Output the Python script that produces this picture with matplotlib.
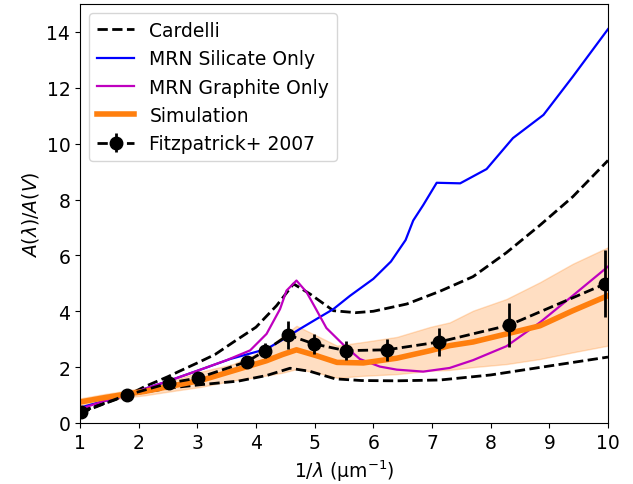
import numpy as np
import matplotlib
matplotlib.use('Agg')
import matplotlib.pyplot as plt

plt.rcParams['font.size'] = 13.5

# Cardelli curves (two R_V values)
card_hi_x = [1.0, 1.4, 1.82, 2.1, 2.5, 2.67, 3.0, 3.3, 3.61, 4.0, 4.35, 4.64, 4.92, 5.32, 5.7, 6.0, 6.57, 7.14, 7.7, 8.27, 8.84, 9.4, 10.0]
card_hi_y = [0.35, 0.68, 1.0, 1.3, 1.66, 1.83, 2.15, 2.45, 2.89, 3.43, 4.2, 4.98, 4.62, 4.02, 3.95, 4.0, 4.26, 4.72, 5.24, 6.1, 7.08, 8.1, 9.4]
card_lo_x = [1.0, 1.4, 1.82, 2.2, 2.6, 3.05, 3.7, 4.18, 4.58, 4.92, 5.35, 5.8, 6.4, 7.14, 8.0, 8.84, 10.0]
card_lo_y = [0.47, 0.76, 1.0, 1.14, 1.27, 1.37, 1.5, 1.7, 1.96, 1.85, 1.58, 1.52, 1.51, 1.54, 1.72, 1.99, 2.36]

# MRN silicate only
sil_x = [1.0, 1.4, 1.82, 2.1, 2.5, 3.0, 3.56, 4.18, 4.47, 4.75, 5.03, 5.32, 5.6, 6.0, 6.3, 6.55, 6.68, 6.85, 7.08, 7.48, 7.93, 8.38, 8.9, 9.4, 10.0]
sil_y = [0.55, 0.78, 1.0, 1.22, 1.5, 1.87, 2.29, 2.65, 3.0, 3.37, 3.72, 4.08, 4.55, 5.16, 5.78, 6.55, 7.25, 7.8, 8.6, 8.58, 9.09, 10.2, 11.03, 12.4, 14.1]

# MRN graphite only
gra_x = [1.0, 1.4, 1.82, 2.1, 2.5, 3.0, 3.5, 3.9, 4.18, 4.41, 4.52, 4.69, 4.86, 5.03, 5.2, 5.49, 5.77, 6.11, 6.4, 6.85, 7.3, 7.7, 8.27, 8.84, 9.4, 10.0]
gra_y = [0.5, 0.78, 1.0, 1.22, 1.5, 1.87, 2.25, 2.6, 3.19, 4.08, 4.74, 5.1, 4.69, 4.05, 3.4, 2.8, 2.29, 2.02, 1.91, 1.84, 1.97, 2.25, 2.75, 3.6, 4.56, 5.6]

# Simulation and its spread
sim_x = [1.0, 1.4, 1.8, 2.1, 2.5, 3.05, 3.61, 4.18, 4.45, 4.69, 5.03, 5.38, 5.83, 6.4, 6.97, 7.3, 7.7, 8.27, 8.84, 9.4, 10.0]
sim_y = [0.75, 0.9, 1.04, 1.13, 1.3, 1.52, 1.87, 2.23, 2.45, 2.62, 2.41, 2.17, 2.15, 2.32, 2.59, 2.77, 2.9, 3.19, 3.48, 4.02, 4.56]
sim_hi = [0.88, 1.03, 1.16, 1.27, 1.47, 1.83, 2.11, 2.65, 3.1, 3.48, 3.13, 2.77, 2.9, 3.08, 3.44, 3.6, 4.02, 4.44, 5.04, 5.7, 6.29]
sim_lo = [0.62, 0.77, 0.92, 0.99, 1.12, 1.29, 1.52, 1.7, 1.8, 1.93, 1.81, 1.62, 1.69, 1.75, 1.87, 1.9, 2.0, 2.11, 2.29, 2.53, 2.77]

# Fitzpatrick+ 2007 points
fitz_x = [1.02, 1.8, 2.52, 3.01, 3.85, 4.15, 4.55, 4.99, 5.53, 6.23, 7.12, 8.31, 9.95]
fitz_y = [0.4, 1.0, 1.43, 1.61, 2.2, 2.58, 3.15, 2.83, 2.59, 2.62, 2.9, 3.5, 4.98]
fitz_err = [0.0, 0.0, 0.0, 0.0, 0.1, 0.27, 0.5, 0.36, 0.33, 0.39, 0.5, 0.78, 1.2]

fig = plt.figure(figsize=(6.33, 4.85), dpi=100)
ax = fig.add_axes([80/633, 1 - 424/485, 528/633, 419/485])

ax.plot(card_hi_x, card_hi_y, 'k--', lw=2, label='Cardelli')
ax.plot(card_lo_x, card_lo_y, 'k--', lw=2)
ax.plot(sil_x, sil_y, 'b-', lw=1.6, label='MRN Silicate Only')
ax.plot(gra_x, gra_y, 'm-', lw=1.6, label='MRN Graphite Only')
ax.fill_between(sim_x, sim_lo, sim_hi, color='C1', alpha=0.25)
ax.plot(sim_x, sim_y, color='C1', lw=4, label='Simulation')
ax.errorbar(fitz_x, fitz_y, yerr=fitz_err, fmt='ko--', lw=2, ms=9,
            elinewidth=2, label='Fitzpatrick+ 2007')

ax.set_xlim(1, 10)
ax.set_ylim(0, 15)
ax.set_xticks(range(1, 11))
ax.set_yticks(range(0, 15, 2))
ax.set_xlabel(r'$1/\lambda$ (µm$^{-1}$)')
ax.set_ylabel(r'$A(\lambda)/A(V)$')
ax.legend(loc='upper left')

fig.savefig('out.png', dpi=100)
